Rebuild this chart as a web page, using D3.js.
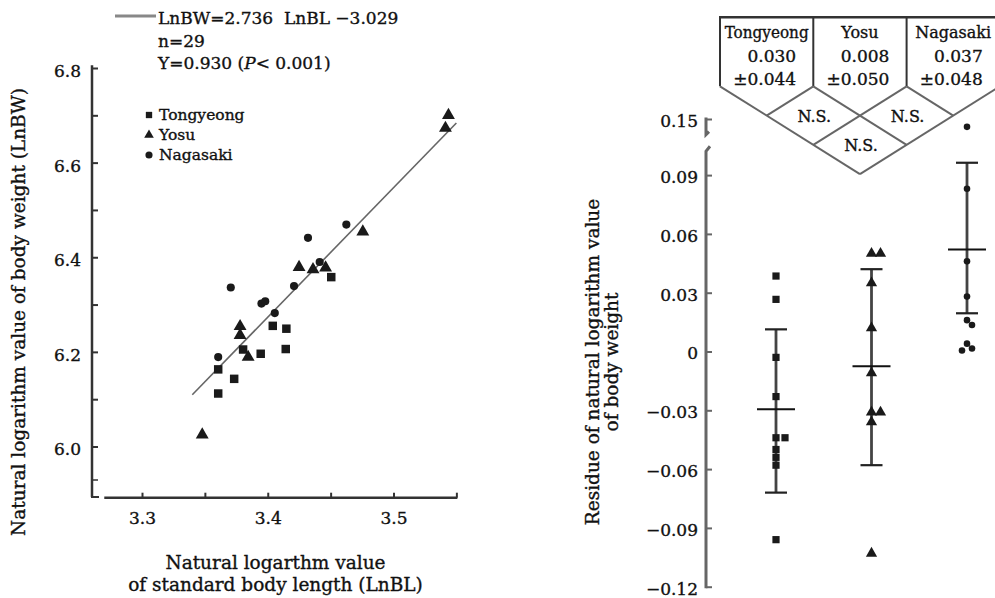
<!DOCTYPE html>
<html><head><meta charset="utf-8">
<script src="https://cdn.jsdelivr.net/npm/d3@7"></script>
<style>
html,body{margin:0;padding:0;background:#fff;}
svg{display:block;font-family:"DejaVu Serif",serif;}
svg text{stroke:#111;stroke-width:0.35px;}
</style></head><body>
<svg id="chart" width="995" height="598"></svg>
<script>
// ---- data ----
const groups = ["Tongyeong", "Yosu", "Nagasaki"];

// body length / body weight (natural logs) per locality
const tongyeongLnBL = [3.4505, 3.404, 3.4148, 3.3804, 3.3944, 3.4143, 3.3606, 3.3733, 3.3606];
const tongyeongLnBW = [6.358, 6.255, 6.249, 6.205, 6.196, 6.206, 6.163, 6.143, 6.112];
const yosuLnBL = [3.4756, 3.4249, 3.436, 3.446, 3.378, 3.378, 3.3844, 3.3479, 3.5437, 3.5413];
const yosuLnBW = [6.454, 6.379, 6.374, 6.378, 6.254, 6.235, 6.189, 6.025, 6.700, 6.673];
const nagasakiLnBL = [3.4625, 3.432, 3.4413, 3.4209, 3.3706, 3.395, 3.398, 3.4056, 3.3606];
const nagasakiLnBW = [6.469, 6.441, 6.390, 6.339, 6.336, 6.302, 6.307, 6.282, 6.189];

// regression LnBW = slope * LnBL + intercept
const slope = 2.736, intercept = -3.029;
const fitRange = [3.34, 3.55];
const equationLines = ["LnBW=2.736  LnBL \u22123.029", "n=29"];

const xTickValues = [3.3, 3.35, 3.4, 3.45, 3.5, 3.55];
const xTickLabels = [3.3, 3.4, 3.5];
const yTickValues = [6.0, 6.1, 6.2, 6.3, 6.4, 6.5, 6.6, 6.7, 6.8];
const yTickLabels = [6.0, 6.2, 6.4, 6.6, 6.8];

// residuals of LnBW per locality
const tongyeongResidual = [0.0385, 0.0266, -0.003, -0.023, -0.044, -0.044, -0.050, -0.054, -0.058, -0.096];
const yosuResidual = [0.050, 0.050, 0.035, 0.012, -0.011, -0.031, -0.031, -0.036, -0.103];
const nagasakiResidual = [0.146, 0.083, 0.046, 0.028, 0.016, 0.0135, 0.004, 0.0015, 0.0005];
const residualMean = [-0.0295, -0.0075, 0.052];
const residualUpper = [0.0113, 0.042, 0.0963];
const residualLower = [-0.072, -0.058, 0.0195];
const residualTicks = [-0.12, -0.09, -0.06, -0.03, 0, 0.03, 0.06, 0.09, 0.15];

// summary table
const tableMean = ["0.030", "0.008", "0.037"];
const tableSD = ["\u00b10.044", "\u00b10.050", "\u00b10.048"];
const comparisons = ["N.S.", "N.S.", "N.S."];

// ---- drawing ----
const svg = d3.select("#chart");
const ink = "#111";
const symbolTypes = [d3.symbolSquare, d3.symbolTriangle, d3.symbolCircle];

// ---------- left panel: scatter with regression ----------
const xL = d3.scaleLinear().domain([3.3, 3.5]).range([142, 393.5]);
const yL = d3.scaleLinear().domain([6.0, 6.8]).range([446.5, 68]);
const left = svg.append("g");

// axis lines (with the small break at the origin corner)
const axisColor = "#333";
left.append("line").attr("x1", 92).attr("x2", 92).attr("y1", yL(6.806)).attr("y2", 497)
  .attr("stroke", axisColor).attr("stroke-width", 2.5);
left.append("line").attr("x1", 91).attr("x2", 99).attr("y1", 497).attr("y2", 497)
  .attr("stroke", axisColor).attr("stroke-width", 2);
left.append("line").attr("x1", 92).attr("x2", 98).attr("y1", 480).attr("y2", 480)
  .attr("stroke", axisColor).attr("stroke-width", 1.5);
left.append("line").attr("x1", xL(3.27)).attr("x2", xL(3.55) + 1).attr("y1", 497.7).attr("y2", 497.7)
  .attr("stroke", axisColor).attr("stroke-width", 2.5);

const yAxisL = d3.axisLeft(yL).tickValues(yTickValues).tickSizeInner(-6).tickSizeOuter(0).tickPadding(11)
  .tickFormat(d => yTickLabels.some(v => Math.abs(v - d) < 1e-9) ? d3.format(".1f")(d) : "");
const gy = left.append("g").attr("transform", "translate(92,0)").call(yAxisL);
gy.select(".domain").remove();
gy.selectAll(".tick line").attr("stroke", axisColor).attr("stroke-width", 2);
gy.selectAll(".tick text").attr("font-family", "DejaVu Serif").attr("font-size", 17).attr("fill", ink)
  .attr("transform", "translate(0,3)");

const xAxisL = d3.axisBottom(xL).tickValues(xTickValues).tickSizeInner(-5).tickSizeOuter(0).tickPadding(14.5)
  .tickFormat(d => xTickLabels.some(v => Math.abs(v - d) < 1e-9) ? d3.format(".1f")(d) : "");
const gx = left.append("g").attr("transform", "translate(0,497.7)").call(xAxisL);
gx.select(".domain").remove();
gx.selectAll(".tick line").attr("stroke", axisColor).attr("stroke-width", 2);
gx.selectAll(".tick text").attr("font-family", "DejaVu Serif").attr("font-size", 17).attr("fill", ink);

// regression line
left.append("line")
  .attr("x1", xL(fitRange[0])).attr("y1", yL(slope * fitRange[0] + intercept))
  .attr("x2", xL(fitRange[1])).attr("y2", yL(slope * fitRange[1] + intercept))
  .attr("stroke", "#666").attr("stroke-width", 1.6);

// points
const scatterSets = [
  d3.zip(tongyeongLnBL, tongyeongLnBW),
  d3.zip(yosuLnBL, yosuLnBW),
  d3.zip(nagasakiLnBL, nagasakiLnBW)
];
const scatterSizes = [72, 72, 52];
scatterSets.forEach((pts, gi) => {
  left.append("g").selectAll("path").data(pts).join("path")
    .attr("transform", d => `translate(${xL(d[0])},${yL(d[1])})`)
    .attr("d", d3.symbol(symbolTypes[gi], scatterSizes[gi]))
    .attr("fill", "#1a1a1a");
});

// equation block
const eq = left.append("g").attr("font-size", 17).attr("fill", ink);
eq.append("line").attr("x1", 115).attr("x2", 156).attr("y1", 16).attr("y2", 16)
  .attr("stroke", "#888").attr("stroke-width", 3);
equationLines.forEach((t, i) => {
  eq.append("text").attr("x", 158).attr("y", 24 + i * 22.5).attr("xml:space", "preserve")
    .style("white-space", "pre").text(t);
});
const rLine = eq.append("text").attr("x", 158).attr("y", 69);
rLine.append("tspan").text("Y=0.930 (");
rLine.append("tspan").attr("font-style", "italic").text("P");
rLine.append("tspan").text("< 0.001)");

// series legend
const leg = left.append("g").attr("font-size", 15.5).attr("fill", ink);
groups.forEach((g, i) => {
  const yy = 115 + i * 20;
  leg.append("path").attr("transform", `translate(149,${yy})`)
    .attr("d", d3.symbol(symbolTypes[i], 40)).attr("fill", "#1a1a1a");
  leg.append("text").attr("x", 159).attr("y", yy).attr("dominant-baseline", "central").text(g);
});

// axis titles
left.append("text").attr("transform", "translate(18,312) rotate(-90)")
  .attr("text-anchor", "middle").attr("dominant-baseline", "central")
  .attr("font-size", 18.5).attr("fill", ink)
  .text("Natural logarithm value of body weight (LnBW)");
const xt = left.append("g").attr("font-size", 18.5).attr("fill", ink).attr("text-anchor", "middle");
xt.append("text").attr("x", 275.5).attr("y", 562).attr("dominant-baseline", "central").text("Natural logarthm value");
xt.append("text").attr("x", 275.5).attr("y", 584.5).attr("dominant-baseline", "central").text("of standard body length (LnBL)");

// ---------- right panel: residuals by locality ----------
const right = svg.append("g");
const yR = d3.scaleLinear().domain([-0.12, 0.10, 0.14, 0.15]).range([586.7, 155.5, 138.6, 119]);
const xR = d3.scalePoint().domain(groups).range([776, 967]);
const rAxisColor = "#666";
const axX = 706;

// broken axis line
right.append("path")
  .attr("d", `M${axX},${yR(0.15) - 1.5}V${yR(0.142)} l3,-3`)
  .attr("fill", "none").attr("stroke", rAxisColor).attr("stroke-width", 3);
right.append("path")
  .attr("d", `M${axX + 4},${yR(0.103) - 8} L${axX},${yR(0.103) - 3} V${yR(-0.12) + 1.5}`)
  .attr("fill", "none").attr("stroke", rAxisColor).attr("stroke-width", 3);

const yAxisR = d3.axisLeft(yR).tickValues(residualTicks).tickSizeInner(-6).tickSizeOuter(0).tickPadding(8)
  .tickFormat(d => d === 0 ? "0" : d3.format(".2f")(d));
const gyr = right.append("g").attr("transform", `translate(${axX},0)`).call(yAxisR);
gyr.select(".domain").remove();
gyr.selectAll(".tick line").attr("stroke", rAxisColor).attr("stroke-width", 2);
gyr.selectAll(".tick text").attr("font-family", "DejaVu Serif").attr("font-size", 17).attr("fill", ink)
  .attr("transform", "translate(0,2)");

// error bars and means
groups.forEach((g, i) => {
  const cx = xR(g);
  right.append("line").attr("x1", cx).attr("x2", cx)
    .attr("y1", yR(residualUpper[i])).attr("y2", yR(residualLower[i]))
    .attr("stroke", "#444").attr("stroke-width", 2.8);
  [residualUpper[i], residualLower[i]].forEach(v => {
    right.append("line").attr("x1", cx - 11).attr("x2", cx + 11)
      .attr("y1", yR(v)).attr("y2", yR(v)).attr("stroke", "#222").attr("stroke-width", 2.2);
  });
  right.append("line").attr("x1", cx - 19).attr("x2", cx + 19)
    .attr("y1", yR(residualMean[i])).attr("y2", yR(residualMean[i]))
    .attr("stroke", "#111").attr("stroke-width", 2);
});

// residual points, nudged sideways where they would overlap
const residualSets = [tongyeongResidual, yosuResidual, nagasakiResidual];
const residualSizes = [52, 55, 34];
residualSets.forEach((vals, gi) => {
  const placed = [];
  const pts = vals.map(v => {
    const py = yR(v);
    let off = 0;
    for (const o of [0, 5, -5, 9, -9]) {
      if (placed.every(p => Math.hypot(p.x - o, p.y - py) > 7)) { off = o; break; }
    }
    placed.push({x: off, y: py});
    return {x: xR(groups[gi]) + off, y: py};
  });
  right.append("g").selectAll("path").data(pts).join("path")
    .attr("transform", d => `translate(${d.x},${d.y})`)
    .attr("d", d3.symbol(symbolTypes[gi], residualSizes[gi]))
    .attr("fill", "#1a1a1a");
});

// y title (two lines)
const rt = right.append("text").attr("transform", "translate(602,362) rotate(-90)")
  .attr("text-anchor", "middle").attr("font-size", 18.5).attr("fill", ink);
rt.append("tspan").attr("x", 0).attr("y", -9.2).attr("dominant-baseline", "central").text("Residue of natural logarithm value");
rt.append("tspan").attr("x", 0).attr("y", 9.5).attr("dominant-baseline", "central").text("of body weight");

// summary table with pairwise comparison lattice
const tbl = svg.append("g");
const cellW = 93.3, tLeft = 720, tTop = 17.3, tBottom = 86.3, step = 29.3, half = cellW / 2;
const cx0 = tLeft, cx1 = tLeft + cellW, cx2 = tLeft + 2 * cellW, cx3 = tLeft + 3 * cellW;
tbl.append("line").attr("x1", cx0 - 1).attr("x2", cx3).attr("y1", tTop).attr("y2", tTop)
  .attr("stroke", "#333").attr("stroke-width", 2.5);
[cx0, cx1, cx2].forEach(x => {
  tbl.append("line").attr("x1", x).attr("x2", x).attr("y1", tTop).attr("y2", tBottom)
    .attr("stroke", "#333").attr("stroke-width", 2);
});
const lattice = [
  [cx0, tBottom, cx0 + 3 * half, tBottom + 3 * step],
  [cx3, tBottom, cx3 - 3 * half, tBottom + 3 * step],
  [cx1, tBottom, cx1 - half, tBottom + step],
  [cx1, tBottom, cx1 + 2 * half, tBottom + 2 * step],
  [cx2, tBottom, cx2 - 2 * half, tBottom + 2 * step],
  [cx2, tBottom, cx2 + half, tBottom + step]
];
tbl.selectAll("line.lat").data(lattice).join("line").attr("class", "lat")
  .attr("x1", d => d[0]).attr("y1", d => d[1]).attr("x2", d => d[2]).attr("y2", d => d[3])
  .attr("stroke", "#666").attr("stroke-width", 2);

groups.forEach((g, i) => {
  const mid = tLeft + (i + 0.5) * cellW;
  const name = tbl.append("text").attr("x", mid).attr("y", 32).attr("text-anchor", "middle")
    .attr("dominant-baseline", "central").attr("font-size", 16).attr("fill", ink).text(g);
  if (name.node().getComputedTextLength() > 84) name.attr("textLength", 84).attr("lengthAdjust", "spacingAndGlyphs");
  const sd = tbl.append("text").attr("x", mid - 2).attr("y", 78.5).attr("text-anchor", "middle")
    .attr("dominant-baseline", "central").attr("font-size", 17).attr("fill", ink).text(tableSD[i]);
  const b = sd.node().getBBox();
  tbl.append("text").attr("x", b.x + b.width).attr("y", 55.5).attr("text-anchor", "end")
    .attr("dominant-baseline", "central").attr("font-size", 17).attr("fill", ink).text(tableMean[i]);
});
const nsPos = [[cx1, tBottom + step], [cx2, tBottom + step], [cx1 + half, tBottom + 2 * step]];
nsPos.forEach((p, i) => {
  tbl.append("text").attr("x", p[0] + 1).attr("y", p[1] + 1).attr("text-anchor", "middle")
    .attr("dominant-baseline", "central").attr("font-size", 16).attr("fill", ink).text(comparisons[i]);
});
</script>
</body></html>
